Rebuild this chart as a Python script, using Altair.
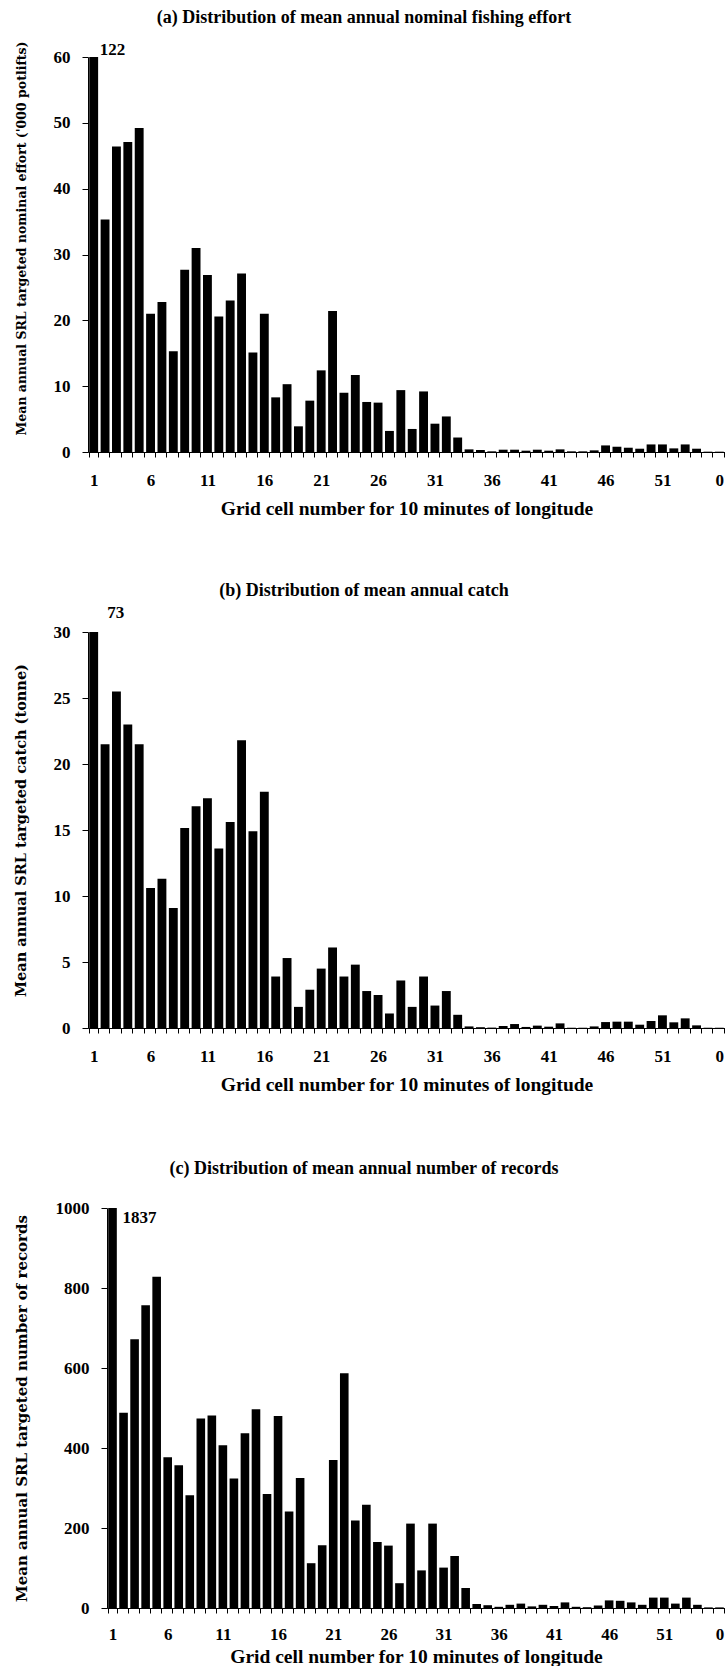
import altair as alt
import pandas as pd

# Grid cells along the coast; the last column is cell "0"
cells = [str(i) for i in range(1, 56)] + ["0"]

# (a) mean annual nominal effort ('000 potlifts)
effort = [122, 35.3, 46.4, 47.1, 49.2, 21.0, 22.8, 15.3, 27.7, 31.0,
          26.9, 20.6, 23.0, 27.1, 15.1, 21.0, 8.3, 10.3, 3.9, 7.8,
          12.4, 21.4, 9.0, 11.7, 7.6, 7.5, 3.2, 9.4, 3.5, 9.2,
          4.3, 5.4, 2.2, 0.4, 0.3, 0.1, 0.35, 0.35, 0.2, 0.35,
          0.2, 0.4, 0.1, 0.1, 0.25, 1.0, 0.8, 0.65, 0.5, 1.15,
          1.15, 0.55, 1.15, 0.5, 0.05, 0.05]

# (b) mean annual catch (tonne)
catch = [73, 21.5, 25.5, 23.0, 21.5, 10.6, 11.3, 9.1, 15.15, 16.8,
         17.4, 13.6, 15.6, 21.8, 14.9, 17.9, 3.9, 5.3, 1.6, 2.9,
         4.5, 6.1, 3.9, 4.8, 2.8, 2.5, 1.1, 3.6, 1.6, 3.9,
         1.7, 2.8, 1.0, 0.12, 0.06, 0.03, 0.15, 0.3, 0.08, 0.18,
         0.1, 0.35, 0.02, 0.02, 0.12, 0.45, 0.48, 0.48, 0.25, 0.53,
         0.96, 0.43, 0.73, 0.2, 0.02, 0.02]

# (c) mean annual number of records
records = [1837, 488, 672, 757, 828, 377, 357, 282, 474, 481,
           407, 324, 437, 497, 285, 480, 241, 325, 112, 157,
           370, 587, 219, 258, 165, 156, 62, 211, 94, 211,
           101, 130, 50, 10, 7, 3, 8, 11, 4, 8,
           5, 14, 3, 2, 6, 19, 18, 14, 8, 26,
           26, 11, 26, 8, 1.5, 1.5]

SERIF = "Liberation Serif"
WIDE_SERIF = "DejaVu Serif"
X_TITLE = "Grid cell number for 10 minutes of longitude"
LABELS = "(toNumber(datum.value) - 1) % 5 == 0 || datum.value == '0' ? datum.value : ''"


def panel(values, ymax, ystep, heading, ytitle, ytitle_size, height,
          note_y, note_dx, note_align, heading_y, x_shift=0,
          ytitle_y=None, label_pad=15, title_pad=11):
    df = pd.DataFrame({"cell": cells, "value": values})
    xscale = alt.Scale(paddingInner=0.22, paddingOuter=0.11)
    if x_shift:
        xscale = alt.Scale(paddingInner=0.22, paddingOuter=0.11,
                           range=[x_shift, 637])
    x = alt.X("cell:N", sort=cells, scale=xscale,
              axis=alt.Axis(title=X_TITLE, labelExpr=LABELS, labelAngle=0,
                            tickBand="extent", tickSize=5, tickColor="black",
                            domainColor="black", labelFont=SERIF,
                            labelFontSize=17, labelFontWeight="bold",
                            labelColor="black", labelPadding=label_pad,
                            titleFont=SERIF, titleFontSize=19.5,
                            titleFontWeight="bold", titleColor="black",
                            titlePadding=title_pad))
    yaxis = dict(values=list(range(0, ymax + 1, ystep)), format="d",
                 grid=False, tickSize=6, tickColor="black",
                 domainColor="black", labelFont=SERIF, labelFontSize=17,
                 labelFontWeight="bold", labelColor="black", labelPadding=12,
                 title=ytitle, titleFont=WIDE_SERIF, titleFontSize=ytitle_size,
                 titleFontWeight="bold", titleColor="black",
                 titleX=-67 - x_shift, titleBaseline="middle")
    if ytitle_y is not None:
        yaxis["titleY"] = ytitle_y
    if x_shift:
        yaxis["offset"] = -x_shift
    y = alt.Y("value:Q", scale=alt.Scale(domain=[0, ymax], nice=False),
              axis=alt.Axis(**yaxis))

    bars = alt.Chart(df).mark_bar(color="black", clip=True).encode(x=x, y=y)

    # the first cell runs off the scale: its value is written beside the bar
    note = alt.Chart(df.iloc[:1]).mark_text(
        font=SERIF, fontSize=17, fontWeight="bold", color="black",
        align=note_align, baseline="alphabetic", dx=note_dx
    ).encode(x=alt.X("cell:N", sort=cells, scale=xscale),
             y=alt.value(note_y),
             text=alt.Text("value:Q", format="d"))

    head = alt.Chart(pd.DataFrame({"t": [heading]})).mark_text(
        font=SERIF, fontSize=18, fontWeight="bold", color="black",
        align="center", baseline="middle"
    ).encode(x=alt.value(276), y=alt.value(heading_y), text="t:N")

    return alt.layer(bars, note, head).properties(width=637, height=height)


a = panel(effort, 60, 10,
          "(a) Distribution of mean annual nominal fishing effort",
          "Mean annual SRL targeted nominal effort ('000 potlifts)", 12.5,
          395, -2, 6, "left", -39, ytitle_y=181)
b = panel(catch, 30, 5,
          "(b) Distribution of mean annual catch",
          "Mean annual SRL targeted catch (tonne)", 14.5,
          396, -14, 22, "center", -41)
c = panel(records, 1000, 200,
          "(c) Distribution of mean annual number of records",
          "Mean annual SRL targeted number of records", 15,
          400, 15, 10, "left", -39, x_shift=19, label_pad=13,
          title_pad=5)

chart = alt.vconcat(a, b, c, spacing=180, bounds="flush").properties(
    padding={"left": 12, "top": 9, "right": 0, "bottom": 0},
    background="white",
).configure_view(stroke=None)

chart.save("out.html", embed_options={"renderer": "svg", "actions": False})
